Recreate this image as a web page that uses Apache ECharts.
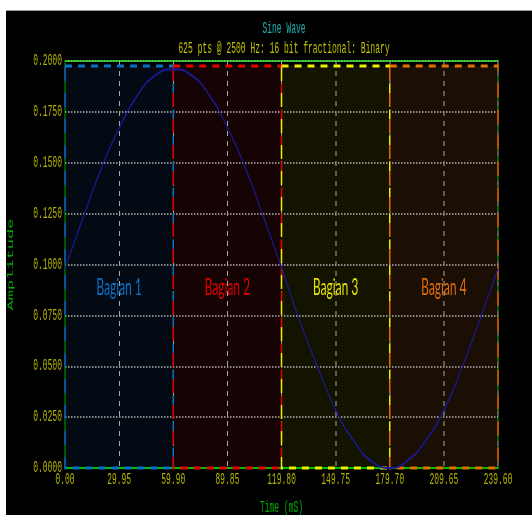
<!DOCTYPE html>
<html>
<head>
<meta charset="utf-8">
<script src="https://cdn.jsdelivr.net/npm/echarts@6/dist/echarts.min.js"></script>
<style>
  html, body { margin: 0; padding: 0; background: #ffffff; width: 532px; height: 515px; overflow: hidden; }
  #frame { position: absolute; left: 6px; top: 10px; width: 526px; height: 505px; background: #000000;
           border-top: 1px solid #9a9a9a; box-sizing: border-box; overflow: hidden; }
  /* the scope display uses tall, narrow glyphs: draw wide, then squeeze horizontally */
  #chart { position: absolute; left: 0; top: 0; width: 1052px; height: 504px;
           transform: scaleX(0.5); transform-origin: 0 0; }
</style>
</head>
<body>
<div id="frame"><div id="chart"></div></div>
<script>
// Sampled waveform (time in ms, amplitude)
const timeMs = [0, 10, 20, 30, 40, 50, 60, 70, 80, 90, 100, 110, 120,
                130, 140, 150, 160, 170, 180, 190, 200, 210, 220, 230, 239.6];
const amplitude = [0.098, 0.123, 0.147, 0.167, 0.183, 0.193, 0.196, 0.193, 0.183, 0.167, 0.147, 0.123, 0.098,
                   0.072, 0.049, 0.028, 0.013, 0.003, 0.000, 0.004, 0.014, 0.029, 0.050, 0.074, 0.098];

// Section boundaries along the time axis and their names
const sectionNames = ['Bagian 1', 'Bagian 2', 'Bagian 3', 'Bagian 4'];
const sectionEdges = [0, 59.9, 119.8, 179.7, 239.6];
const sectionTop = 0.1975;
const sectionLine = ['#0a6fc6', '#e80000', '#eeee00', '#e07000'];
const sectionFill = ['#030a13', '#160303', '#131300', '#1a0e05'];
const sectionText = ['#0a70c8', '#e00000', '#e6e600', '#e06c0c'];

// Axis ticks
const xMin = 0, xMax = 239.6, xStep = 29.95;
const yMin = 0, yMax = 0.2, yStep = 0.025;

const monoFont = '"Liberation Mono", "DejaVu Sans Mono", monospace';

const points = timeMs.map((t, i) => [t, amplitude[i]]);

const fillAreas = sectionNames.map((name, i) => [
  { xAxis: sectionEdges[i], yAxis: sectionTop, itemStyle: { color: sectionFill[i] } },
  { xAxis: sectionEdges[i + 1], yAxis: 0 }
]);

const borderAreas = sectionNames.map((name, i) => [
  {
    name: name,
    xAxis: sectionEdges[i], yAxis: sectionTop,
    itemStyle: { color: 'transparent', borderColor: sectionLine[i], borderWidth: 3, borderType: [14, 12] },
    label: { color: sectionText[i] }
  },
  { xAxis: sectionEdges[i + 1], yAxis: 0 }
]);

const chart = echarts.init(document.getElementById('chart'));
chart.setOption({
  backgroundColor: '#000000',
  animation: false,
  title: {
    text: 'Sine Wave',
    subtext: '625 pts @ 2500 Hz: 16 bit fractional: Binary',
    left: 551,
    textAlign: 'center',
    top: 5,
    itemGap: 4,
    textStyle: { color: '#1fb3b3', fontFamily: monoFont, fontSize: 16, fontWeight: 'normal' },
    subtextStyle: { color: '#c4c400', fontFamily: monoFont, fontSize: 16 }
  },
  grid: {
    left: 118, right: 68, top: 50, bottom: 47,
    outerBoundsMode: 'none',
    containLabel: false,
    show: true, z: 3,
    borderColor: '#00c000', borderWidth: 2,
    backgroundColor: 'transparent'
  },
  xAxis: {
    type: 'value',
    min: xMin, max: xMax, interval: xStep,
    z: 3,
    name: 'Time (mS)',
    nameLocation: 'middle',
    nameGap: 32,
    nameTextStyle: { color: '#00b000', fontFamily: monoFont, fontSize: 16 },
    axisLine: { show: true, lineStyle: { color: '#00c000', width: 2 } },
    axisTick: { show: false },
    axisLabel: {
      color: '#b4b400', fontFamily: monoFont, fontSize: 16, margin: 4,
      formatter: v => v.toFixed(2)
    },
    splitLine: { show: true, lineStyle: { color: '#a8a8a8', width: 2, type: [5, 5] } }
  },
  yAxis: {
    type: 'value',
    min: yMin, max: yMax, interval: yStep,
    z: 3,
    name: 'Amplitude',
    nameLocation: 'middle',
    nameGap: 100,
    nameTextStyle: { color: '#00b000', fontFamily: monoFont, fontSize: 17 },
    axisLine: { show: true, lineStyle: { color: '#00a000', width: 2 } },
    axisTick: { show: false },
    axisLabel: {
      color: '#b4b400', fontFamily: monoFont, fontSize: 16, margin: 6,
      padding: [0, 0, 8, 0],
      formatter: v => v.toFixed(4)
    },
    splitLine: { show: true, lineStyle: { color: '#b4b4b4', width: 1.5, type: [3, 3] } }
  },
  series: [
    {
      name: 'fill',
      type: 'line',
      data: [],
      z: 1,
      silent: true,
      markArea: { silent: true, z: 1, data: fillAreas }
    },
    {
      name: 'sections',
      type: 'line',
      data: [],
      z: 4,
      clip: false,
      silent: true,
      markArea: {
        silent: true,
        z: 4,
        label: {
          show: true, position: 'inside', offset: [0, 20],
          fontFamily: 'Lato, "Open Sans", sans-serif', fontSize: 24
        },
        data: borderAreas
      }
    },
    {
      name: 'Sine Wave',
      type: 'line',
      data: points,
      smooth: true,
      showSymbol: false,
      z: 5,
      lineStyle: { color: '#1a1a9e', width: 2 }
    }
  ]
});
</script>
</body>
</html>
